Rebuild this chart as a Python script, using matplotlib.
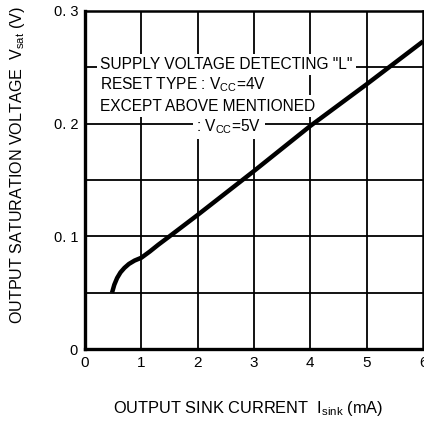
import matplotlib
matplotlib.use("Agg")
import matplotlib.pyplot as plt
import numpy as np

plt.rcParams['font.family'] = ['Liberation Sans', 'DejaVu Sans']
plt.rcParams['mathtext.fontset'] = 'custom'
plt.rcParams['mathtext.rm'] = 'Liberation Sans'
plt.rcParams['mathtext.it'] = 'Liberation Sans'

# Data
i_sink = [0.48, 0.52, 0.57, 0.63, 0.70, 0.78, 0.88, 1.0, 1.15, 1.3, 1.5, 2.0, 3.0, 4.0, 5.0, 6.0]
v_sat = [0.050, 0.057, 0.063, 0.068, 0.072, 0.0755, 0.0785, 0.081, 0.0865, 0.0925, 0.100, 0.119, 0.158, 0.198, 0.235, 0.273]

x_ticks = [0, 1, 2, 3, 4, 5, 6]
x_tick_labels = ["0", "1", "2", "3", "4", "5", "6"]
y_ticks = [0, 0.1, 0.2, 0.3]
y_tick_labels = ["0", "0. 1", "0. 2", "0. 3"]
y_grid = [0.05, 0.1, 0.15, 0.2, 0.25]
x_grid = [1, 2, 3, 4, 5]

fig = plt.figure(figsize=(4.24, 4.23), dpi=100)
ax = fig.add_axes([85/424, (423-349)/423, 338/424, 338/423])
ax.set_xlim(0, 6)
ax.set_ylim(0, 0.3)

for yv in y_grid:
    ax.axhline(yv, color='black', lw=1.3, zorder=1)
for xv in x_grid:
    ax.axvline(xv, color='black', lw=1.3, zorder=1)

ax.plot(i_sink, v_sat, color='black', lw=3.2, solid_capstyle='butt',
        solid_joinstyle='round', zorder=3)

ax.set_xticks(x_ticks)
ax.set_xticklabels(x_tick_labels, fontsize=11)
ax.set_yticks(y_ticks)
ax.set_yticklabels(y_tick_labels, fontsize=10.5)
ax.tick_params(axis='x', length=0, pad=5)
ax.tick_params(axis='y', length=0, pad=5)

for side, lw in [('left', 2.4), ('bottom', 2.4), ('top', 1.8), ('right', 1.8)]:
    ax.spines[side].set_linewidth(lw)
    ax.spines[side].set_zorder(5)

bb = dict(facecolor='white', edgecolor='none', pad=2.5)
fs = 11.2
ax.text(0.266, 0.2525, 'SUPPLY VOLTAGE DETECTING "L"', fontsize=fs, va='center', ha='left', bbox=bb, zorder=4)
ax.text(0.266, 0.2345, r'RESET TYPE : V$_{\mathrm{CC}}$=4V', fontsize=fs, va='center', ha='left', bbox=bb, zorder=4)
ax.text(0.266, 0.2155, 'EXCEPT ABOVE MENTIONED', fontsize=fs, va='center', ha='left', bbox=bb, zorder=4)
ax.text(1.97, 0.1975, r': V$_{\mathrm{CC}}$=5V', fontsize=fs, va='center', ha='left', bbox=bb, zorder=4)

fig.text(18/424, 1 - 165/423, r'OUTPUT SATURATION VOLTAGE  V$_{\mathrm{sat}}$ (V)', rotation=90,
         ha='center', va='center', fontsize=11.6)
fig.text(248/424, 1 - 408/423, r'OUTPUT SINK CURRENT  I$_{\mathrm{sink}}$ (mA)',
         ha='center', va='center', fontsize=11.8)

fig.savefig('out.png', dpi=100)
